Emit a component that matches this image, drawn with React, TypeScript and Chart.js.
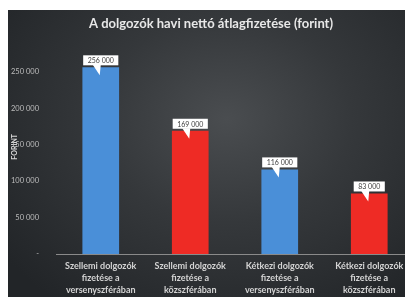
import React, { useEffect, useRef } from "react";
import { Chart, registerables } from "chart.js";

Chart.register(...registerables);

const categories: string[][] = [
  ["Szellemi dolgozók", "fizetése a", "versenyszférában"],
  ["Szellemi dolgozók", "fizetése a", "közszférában"],
  ["Kétkezi dolgozók", "fizetése a", "versenyszférában"],
  ["Kétkezi dolgozók", "fizetése a", "közszférában"],
];
const salaries: number[] = [256000, 169000, 116000, 83000];
const barColors: string[] = ["#4a8fd8", "#ee2b25", "#4a8fd8", "#ee2b25"];
const yTickValues: number[] = [0, 50000, 100000, 150000, 200000, 250000];
const titleText = "A dolgozók havi nettó átlagfizetése (forint)";
const yAxisTitle = "FORINT";

const fmt = (v: number) =>
  v === 0 ? "-" : String(Math.round(v)).replace(/\B(?=(\d{3})+(?!\d))/g, " ");

const calloutPlugin = {
  id: "callouts",
  afterDatasetsDraw(chart: any) {
    const ctx = chart.ctx;
    const meta = chart.getDatasetMeta(0);
    ctx.save();
    ctx.font = "7px Lato";
    meta.data.forEach((bar: any, i: number) => {
      const text = fmt(salaries[i]);
      const tw = ctx.measureText(text).width;
      const w = tw + 9;
      const h = 10;
      const x = bar.x;
      const bottom = bar.y - 2;
      const left = x - w / 2;
      ctx.fillStyle = "#ffffff";
      ctx.fillRect(left, bottom - h, w, h);
      ctx.beginPath();
      ctx.moveTo(x - 8, bottom - 0.5);
      ctx.lineTo(x, bottom - 0.5);
      ctx.lineTo(x - 1, bar.y + 8);
      ctx.closePath();
      ctx.fill();
      ctx.fillStyle = "#404040";
      ctx.textAlign = "center";
      ctx.textBaseline = "middle";
      ctx.fillText(text, x, bottom - h / 2 + 0.5);
    });
    ctx.restore();
  },
};

export default function App() {
  const ref = useRef<HTMLCanvasElement | null>(null);
  useEffect(() => {
    if (!ref.current) return;
    const chart = new Chart(ref.current, {
      type: "bar",
      data: {
        labels: categories,
        datasets: [
          {
            data: salaries,
            backgroundColor: barColors,
            categoryPercentage: 1,
            barPercentage: 0.41,
          },
        ],
      },
      options: {
        animation: false,
        responsive: false,
        maintainAspectRatio: false,
        layout: { padding: { left: 0, right: 0, top: 0, bottom: 0 } },
        plugins: {
          legend: { display: false },
          tooltip: { enabled: false },
          title: {
            display: true,
            text: titleText,
            color: "#e8e8e8",
            font: { family: "Lato", size: 13, weight: "bold" },
            padding: { top: 6, bottom: 8 },
          },
        },
        scales: {
          x: {
            grid: { display: false, drawTicks: false },
            border: { display: true, color: "#8a8a8a", width: 1 },
            ticks: {
              color: "#d4d4d4",
              font: { family: "Lato", size: 9, weight: "bold", lineHeight: 1.33 },
              padding: 6,
              maxRotation: 0,
              autoSkip: false,
            },
            afterFit: (s: any) => {
              s.height = 48;
            },
          },
          y: {
            min: 0,
            max: 294000,
            grid: { display: false, drawTicks: false },
            border: { display: false },
            title: {
              display: true,
              text: yAxisTitle,
              color: "#d8d8d8",
              font: { family: "Lato", size: 7, weight: "bold" },
              padding: { top: 3, bottom: 0 },
            },
            ticks: {
              color: "#bdbdbd",
              font: { family: "Lato", size: 7.5 },
              padding: 17,
              callback: (v: any) => fmt(Number(v)),
            },
            afterBuildTicks: (s: any) => {
              s.ticks = yTickValues.map((v) => ({ value: v }));
            },
            afterFit: (s: any) => {
              s.width = 48;
            },
          },
        },
      },
      plugins: [calloutPlugin],
    });
    return () => chart.destroy();
  }, []);

  return (
    <div
      style={{
        position: "absolute",
        left: 8,
        top: 10,
        width: 397,
        height: 287,
        overflow: "hidden",
        background:
          "radial-gradient(ellipse 70% 80% at 55% 38%, #4a4d50 0%, #35383b 45%, #222528 100%)",
      }}
    >
      <canvas ref={ref} width={406} height={292} style={{ display: "block" }} />
    </div>
  );
}
